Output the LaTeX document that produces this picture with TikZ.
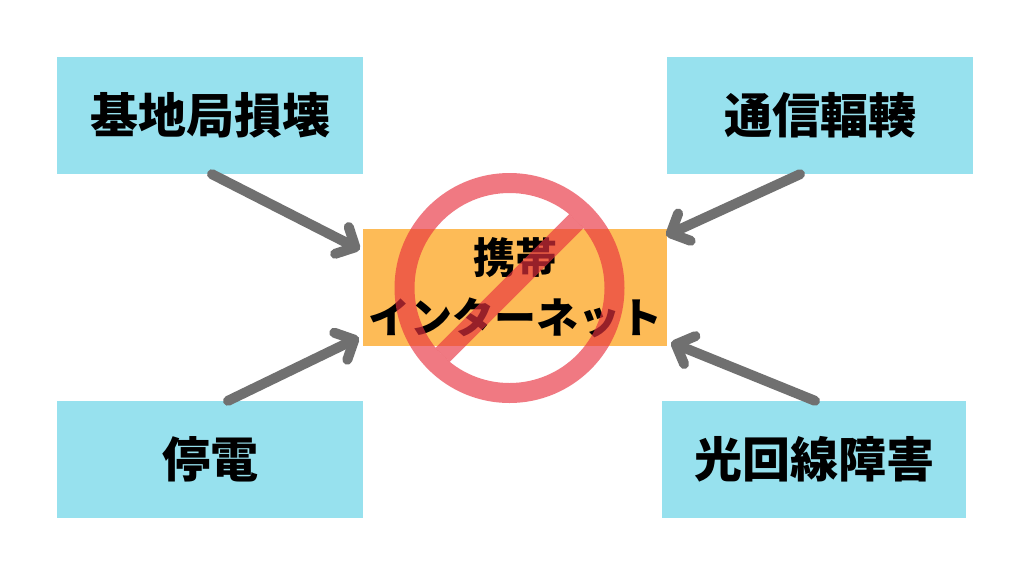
\documentclass[tikz,border=0pt]{standalone}
\usepackage{fontspec}
\newfontfamily\jp{Noto Sans CJK JP}
\usetikzlibrary{arrows.meta}
\definecolor{boxcyan}{RGB}{151,225,238}
\definecolor{boxorange}{RGB}{253,187,87}
\definecolor{arrowgray}{RGB}{112,112,112}
\definecolor{banred}{RGB}{232,50,63}
\tikzset{
  cause/.style={fill=boxcyan, draw=none, minimum width=306pt, minimum height=117pt, inner sep=0pt, font=\jp\bfseries\fontsize{48}{56}\selectfont},
  center/.style={fill=boxorange, draw=none, minimum width=304pt, minimum height=117pt, inner sep=0pt, align=center, font=\jp\bfseries\fontsize{42}{60}\selectfont},
  link/.style={draw=arrowgray, line width=10pt, line cap=round, -{Straight Barb[length=15pt,width=30pt,round]}},
}
\begin{document}
\begin{tikzpicture}[x=1pt,y=-1pt]
\useasboundingbox[fill=white] (0,0) rectangle (1024,576);
\node[cause] (b1) at (210,115.5) {基地局損壊};
\node[cause] (b2) at (820,115.5) {通信輻輳};
\node[cause] (b3) at (210,459.5) {停電};
\node[cause, minimum width=304pt] (b4) at (814,459.5) {光回線障害};
\node[center] (c) at (515,287.5) {携帯\\インターネット};
\draw[link] ([xshift=2pt]b1.south) -- ([xshift=-3pt,yshift=38pt]c.west);
\draw[link] ([xshift=-20pt]b2.south) -- ([xshift=-1pt,yshift=52pt]c.east);
\draw[link] ([xshift=18pt]b3.north) -- ([xshift=-4pt,yshift=-50pt]c.west);
\draw[link] ([xshift=1pt]b4.north) -- ([xshift=4pt,yshift=-55pt]c.east);
\coordinate (ban) at (509.5,288);
\fill[banred, opacity=0.65, even odd rule] (ban) circle[radius=115] (ban) circle[radius=95];
\begin{scope}
\clip (ban) circle[radius=95];
\fill[banred, opacity=0.65, rotate around={45:(ban)}] ([xshift=-100pt,yshift=-10pt]ban) rectangle ([xshift=100pt,yshift=10pt]ban);
\end{scope}
\end{tikzpicture}
\end{document}
